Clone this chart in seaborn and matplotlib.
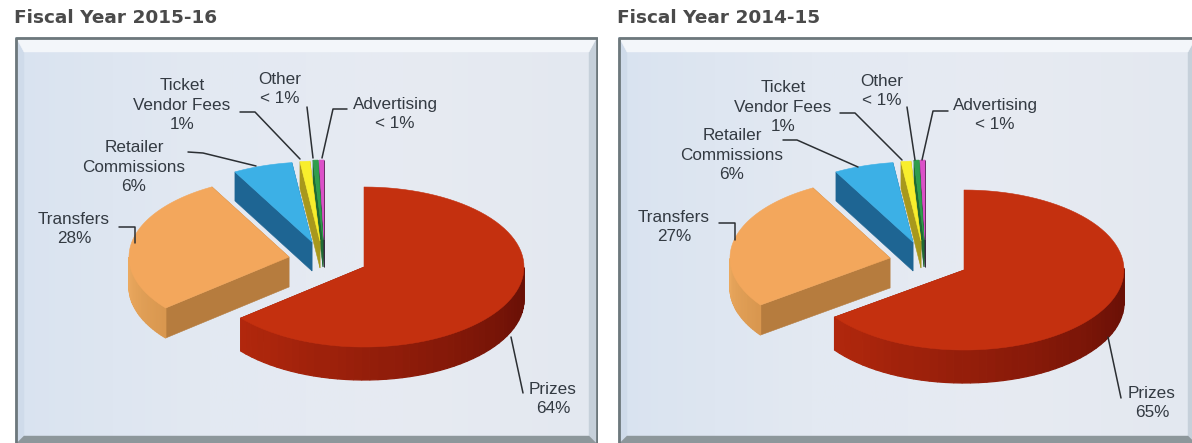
import numpy as np
import matplotlib
matplotlib.use("Agg")
import matplotlib.pyplot as plt
from matplotlib.colors import LinearSegmentedColormap
from matplotlib.patches import Polygon
import seaborn as sns

# Lottery spending shares, in percent
categories = ["Prizes", "Transfers", "Retailer\nCommissions", "Ticket\nVendor Fees", "Other", "Advertising"]
shares_2015 = [64, 28, 6, 1, 0.5, 0.5]
shares_2014 = [65, 27, 6, 1, 0.5, 0.5]
labels_2015 = ["64%", "28%", "6%", "1%", "< 1%", "< 1%"]
labels_2014 = ["65%", "27%", "6%", "1%", "< 1%", "< 1%"]
titles = ["Fiscal Year 2015-16", "Fiscal Year 2014-15"]

sns.set_theme(style="white")
plt.rcParams["font.family"] = ["Liberation Sans", "DejaVu Sans"]

top_colors = sns.color_palette(["#c4300f", "#f3a75c", "#3cb0e6", "#f8ee2c", "#2f9e4c", "#dc50c8"])
cut_colors = sns.color_palette(["#8e1c08", "#b67c3e", "#1e6593", "#a8981c", "#1f6a34", "#3a2a40"])
# Outer wall colours, from the clockwise-most visible end to the far end
wall_ramps = [
    ("#6a1006", "#b3280d"),
    ("#d9974f", "#ecaa60"),
    ("#1e6593", "#1e6593"),
    ("#a8981c", "#a8981c"),
    ("#1f6a34", "#1f6a34"),
    ("#3a2a40", "#3a2a40"),
]

RX, RY = 160, 80
depths = [33, 30, 29, 27, 27, 27]

# Layout in figure pixels: slice apexes, label centres, leader polylines
layout_2015 = {
    "apex": [(364, 267), (289, 257), (312, 242), (320, 241), (323, 240), (324, 240)],
    "label": [(553, 399), (74, 229), (134, 167), (182, 105), (280, 89), (395, 114)],
    "leader": [
        [(511, 337), (523, 393)],
        [(119, 227), (135, 227), (135, 243)],
        [(188, 152), (203, 153), (256, 166)],
        [(240, 112), (255, 112), (300, 159)],
        [(307, 107), (313, 158)],
        [(347, 109), (333, 109), (322, 158)],
    ],
}
layout_2014 = {
    "apex": [(964, 270), (890, 258), (913, 242), (921, 241), (924, 240), (925, 240)],
    "label": [(1152, 403), (674, 227), (732, 155), (783, 107), (882, 91), (995, 115)],
    "leader": [
        [(1108, 337), (1121, 398)],
        [(719, 223), (735, 223), (735, 240)],
        [(783, 140), (797, 140), (858, 167)],
        [(840, 113), (855, 113), (902, 160)],
        [(907, 107), (915, 160)],
        [(948, 111), (933, 111), (922, 160)],
    ],
}


def arc(apex, a0, a1, n=80):
    """Points on the top rim, with angles measured clockwise from twelve o'clock."""
    t = np.radians(np.linspace(a0, a1, n))
    return np.column_stack([apex[0] + RX * np.sin(t), apex[1] - RY * np.cos(t)])


def draw_slice(ax, apex, a0, a1, idx, z):
    rim = arc(apex, a0, a1)
    down = np.array([0, depths[idx]])
    apex = np.array(apex, float)
    cut = cut_colors[idx]
    for p in (rim[0], rim[-1]):
        wall = np.array([apex, p, p + down, apex + down])
        ax.add_patch(Polygon(wall, closed=True, fc=cut, ec=cut, lw=0.4, zorder=z))
    # Outer wall, shaded strip by strip along the rim
    ramp = sns.blend_palette(list(wall_ramps[idx]), 40)
    for i in range(len(rim) - 1):
        mid = (a0 + (a1 - a0) * (i + 0.5) / (len(rim) - 1)) % 360
        if not 90 < mid < 270:
            continue
        if idx == 0:
            frac = np.clip((mid - 100) / (a1 - 100), 0, 1)
        else:
            frac = np.clip((mid - a0) / 40, 0, 1)
        shade = ramp[int(frac * 39)]
        q = np.array([rim[i], rim[i + 1], rim[i + 1] + down, rim[i] + down])
        ax.add_patch(Polygon(q, closed=True, fc=shade, ec=shade, lw=0.9, zorder=z + 0.1))
    ax.add_patch(Polygon(np.vstack([apex, rim]), closed=True, fc=top_colors[idx],
                         ec=top_colors[idx], lw=0.4, zorder=z + 0.2))


def draw_frame(ax, x0, x1, y0, y1):
    # Soft panel fill, a little bluer towards the left edge
    fill = LinearSegmentedColormap.from_list("panel", ["#d9e3f0", "#e3e9f2", "#e7ebf2", "#e3e8f0"])
    ax.imshow(np.linspace(0, 1, 256)[None, :], cmap=fill, extent=(x0, x1, y1, y0),
              aspect="auto", zorder=0)
    # Mitred bevel bands around the panel
    e = 2
    xi0, xi1, yi0, yi1 = x0 + 9, x1 - 9, y0 + 15, y1 - 7
    bands = [
        ("#cfdbea", [(x0 + e, y0 + e), (xi0, yi0), (xi0, yi1), (x0 + e, y1)]),
        ("#c6d0da", [(x1 - e, y0 + e), (xi1, yi0), (xi1, yi1), (x1 - e, y1)]),
        ("#f3f6fa", [(x0 + e, y0 + e), (x1 - e, y0 + e), (xi1, yi0), (xi0, yi0)]),
        ("#8d979b", [(x0 + e, y1), (x1 - e, y1), (xi1, yi1), (xi0, yi1)]),
    ]
    for color, pts in bands:
        ax.add_patch(Polygon(pts, closed=True, fc=color, ec=color, lw=0.3, zorder=1))
    ax.plot([x0 + 1, x0 + 1, x1 - 1, x1 - 1], [y1, y0 + 1, y0 + 1, y1], color="#6d787c", lw=2, zorder=2)


def draw_panel(ax, x0, x1, shares, pct, layout, title):
    y0, y1 = 37, 443
    draw_frame(ax, x0, x1, y0, y1)
    ax.set_xlim(x0, x1)
    ax.set_ylim(y1, y0)
    ax.axis("off")
    ax.text(x0 - 1, 18, title, fontsize=13.3, fontweight="bold", family="DejaVu Sans",
            color="#4a4a4a", va="center", ha="left", clip_on=False)

    edges = np.cumsum([0] + list(shares)) * 3.6
    # Paint back to front so nearer slices overlap the thin ones
    for z, i in enumerate(range(len(shares) - 1, -1, -1)):
        draw_slice(ax, layout["apex"][i], edges[i], edges[i + 1], i, 3 + z)

    for i, name in enumerate(categories):
        lx, ly = layout["label"][i]
        ax.text(lx, ly, f"{name}\n{pct[i]}", ha="center", va="center", fontsize=12.3,
                color="#333a42", linespacing=1.35, zorder=20)
        pts = np.array(layout["leader"][i], float)
        ax.plot(pts[:, 0], pts[:, 1], color="#2b2f33", lw=1.1, zorder=19)


fig = plt.figure(figsize=(11.92, 4.43), dpi=100, facecolor="white")
ax_left = fig.add_axes([15 / 1192, 0, 583 / 1192, 406 / 443])
# The right-hand panel runs slightly past the figure's edge
ax_right = fig.add_axes([618 / 1192, 0, 579 / 1192, 406 / 443])
draw_panel(ax_left, 15, 598, shares_2015, labels_2015, layout_2015, titles[0])
draw_panel(ax_right, 618, 1197, shares_2014, labels_2014, layout_2014, titles[1])
fig.savefig("out.png", dpi=100, facecolor="white")
